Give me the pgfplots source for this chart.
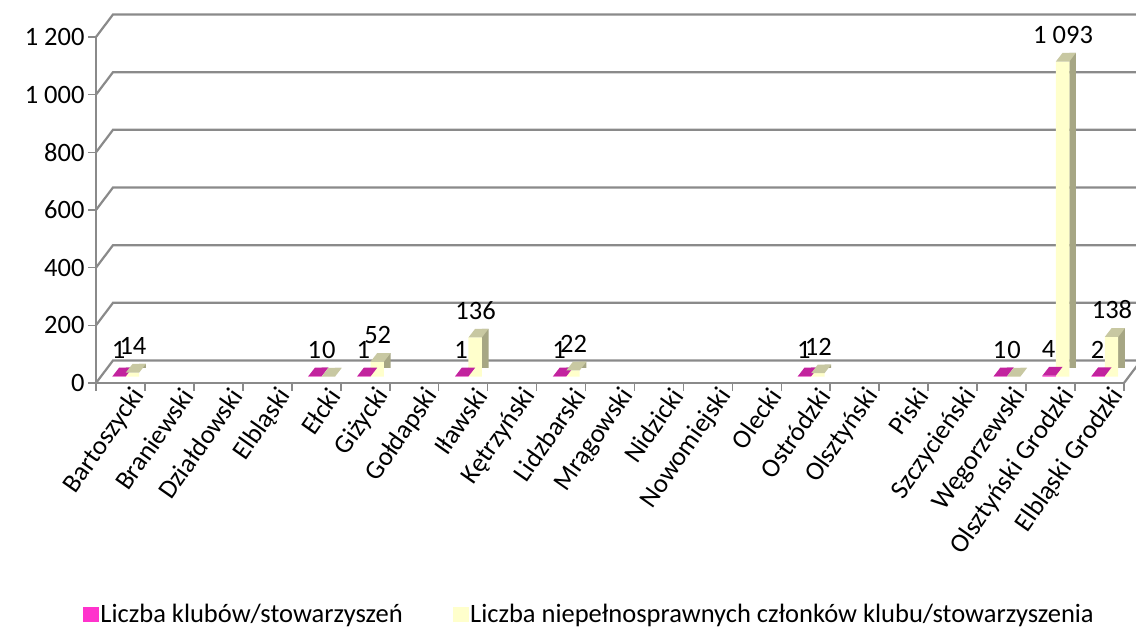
\documentclass[border=0pt]{standalone}
\usepackage{pgfplots}
\pgfplotsset{compat=1.18}
\usepackage{fontspec}
\setmainfont{Carlito}
\definecolor{pinkF}{HTML}{FF33CC}
\definecolor{pinkT}{HTML}{C2239E}
\definecolor{pinkS}{HTML}{A01C82}
\definecolor{yelF}{HTML}{FFFFCC}
\definecolor{yelT}{HTML}{C8C8A2}
\definecolor{yelS}{HTML}{A6A684}
\definecolor{gridc}{HTML}{8A8A8A}
\newcommand\fs{\fontsize{26.5}{31}\selectfont}
\pgfdeclareplotmark{toppink}{%
  \pgfpathmoveto{\pgfpoint{-8.1pt}{6.3pt}}%
  \pgfpathlineto{\pgfpoint{5.3pt}{6.3pt}}%
  \pgfpathlineto{\pgfpoint{12pt}{15pt}}%
  \pgfpathlineto{\pgfpoint{-1.4pt}{15pt}}%
  \pgfpathclose\pgfusepathqfill}
\pgfdeclareplotmark{topyel}{%
  \pgfpathmoveto{\pgfpoint{5.3pt}{6.3pt}}%
  \pgfpathlineto{\pgfpoint{18.7pt}{6.3pt}}%
  \pgfpathlineto{\pgfpoint{25.4pt}{15pt}}%
  \pgfpathlineto{\pgfpoint{12pt}{15pt}}%
  \pgfpathclose\pgfusepathqfill}
\pgfplotstableread{
x y
0 1
4 1
5 1
7 1
9 1
14 1
18 1
19 4
20 2
}\clubs
\pgfplotstableread{
x y
0 14
4 0
5 52
7 136
9 22
14 12
18 0
19 1093
20 138
}\members
\begin{document}
\begin{tikzpicture}
\path[use as bounding box] (0,0) rectangle (1136pt,628pt);
\begin{axis}[
  at={(96pt,245pt)}, anchor=south west,
  scale only axis, width=1028pt, height=346pt,
  xmin=-0.5, xmax=20.5, ymin=0, ymax=1200,
  axis x line*=bottom, axis y line*=left,
  axis line style={gridc, line width=2.2pt},
  ytick={0,200,...,1200},
  yticklabels={0,200,400,600,800,1~000,1~200},
  yticklabel style={font=\fs},
  xtick={-0.5,0.5,...,20.5}, xticklabels={},
  extra x ticks={0,...,20},
  extra x tick labels={Bartoszycki,Braniewski,Działdowski,Elbląski,Ełcki,Giżycki,Gołdapski,Iławski,Kętrzyński,Lidzbarski,Mrągowski,Nidzicki,Nowomiejski,Olecki,Ostródzki,Olsztyński,Piski,Szczycieński,Węgorzewski,Olsztyński Grodzki,Elbląski Grodzki},
  extra x tick style={major tick length=0pt, xticklabel style={rotate=55, anchor=east, font=\fs, yshift=-20pt, xshift=7pt}},
  tick align=outside, major tick length=8pt,
  tick style={gridc, line width=1.6pt},
  clip=false,
  /pgf/number format/.cd, assume math mode=true, 1000 sep={~}, /pgfplots/.cd,
  legend style={at={(0.480,-0.668)}, anchor=center, draw=none, fill=none, legend columns=2, font=\fs,
    /tikz/every even column/.append style={column sep=48pt}},
  legend cell align=left,
]
\pgfplotsinvokeforeach{0,200,400,600,800,1000,1200}{
  \draw[gridc, line width=2.2pt] (axis cs:-0.5,#1) -- ++(17pt,22.5pt) -- ++(1040pt,0pt);
}
\draw[gridc, line width=2.2pt] (axis cs:20.5,0) -- ++(17pt,22.5pt);
\addlegendimage{legend image code/.code={\fill[pinkF] (0pt,-7pt) rectangle (15pt,7pt);}}
\addlegendentry{Liczba klubów/stowarzyszeń}
\addlegendimage{legend image code/.code={\fill[yelF] (0pt,-7pt) rectangle (15pt,7pt);}}
\addlegendentry{Liczba niepełnosprawnych członków klubu/stowarzyszenia}
% clubs: side, front, top
\addplot[ybar, forget plot, bar width=6.7pt, bar shift=8.65pt, yshift=15pt, fill=pinkS, draw=none] table[x=x,y=y] {\clubs};
\addplot[ybar, forget plot, bar width=13.4pt, bar shift=-1.4pt, yshift=6.3pt, fill=pinkF, draw=none] table[x=x,y=y] {\clubs};
\addplot[forget plot, only marks, mark=toppink, mark options={fill=pinkT, draw=none},
  point meta=y, nodes near coords,
  every node near coord/.append style={font=\fs, anchor=south, inner sep=0pt, xshift=-2pt, yshift=24pt, text=black},
] table[x=x,y=y] {\clubs};
% members: side, front, top
\addplot[ybar, forget plot, bar width=6.7pt, bar shift=22.05pt, yshift=15pt, fill=yelS, draw=none] table[x=x,y=y] {\members};
\addplot[ybar, forget plot, bar width=13.4pt, bar shift=12pt, yshift=6.3pt, fill=yelF, draw=none] table[x=x,y=y] {\members};
\addplot[forget plot, only marks, mark=topyel, mark options={fill=yelT, draw=none},
  point meta=y, nodes near coords,
  every node near coord/.append style={font=\fs, anchor=south, inner sep=0pt, xshift=12.5pt, yshift=24pt, text=black},
] table[x=x,y=y] {\members};
\end{axis}
\end{tikzpicture}
\end{document}
